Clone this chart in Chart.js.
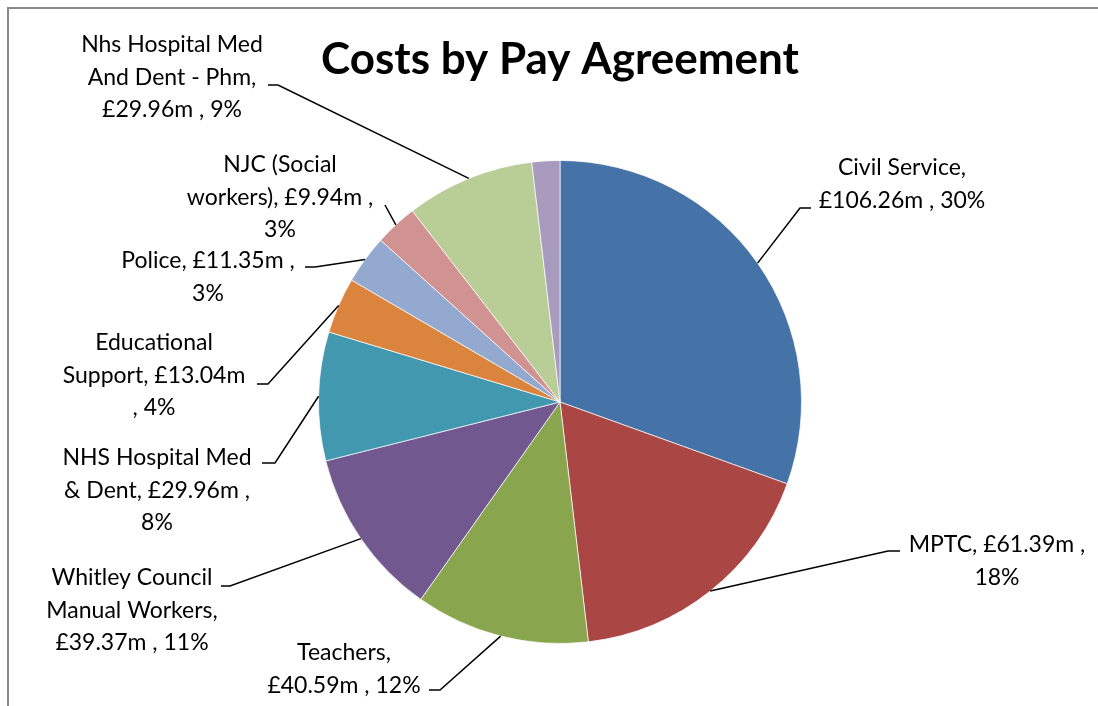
<!DOCTYPE html>
<html>
<head>
<meta charset="utf-8">
<script src="https://cdn.jsdelivr.net/npm/chart.js@4.4.1/dist/chart.umd.min.js"></script>
<style>
  html, body { margin: 0; padding: 0; background: #fff; }
  #wrap { position: relative; width: 1098px; height: 706px; }
</style>
</head>
<body>
<div id="wrap"><canvas id="chartPie" width="1098" height="706"></canvas></div>
<script>
const categories = [
    "Civil Service",
    "MPTC",
    "Teachers",
    "Whitley Council Manual Workers",
    "NHS Hospital Med & Dent",
    "Educational Support",
    "Police",
    "NJC (Social workers)",
    "Nhs Hospital Med And Dent - Phm",
    "Other",
];
const costs = [106.26, 61.39, 40.59, 39.37, 29.96, 13.04, 11.35, 9.94, 29.96, 6.5];
const shares = [30, 18, 12, 11, 8, 4, 3, 3, 9, null];
const sliceColors = [
    "#4572a7", "#aa4643", "#89a54e", "#71588f", "#4198af",
    "#db843d", "#93a9cf", "#d19392", "#b9cd96", "#a99bbd",
];

const FONT = 'Lato, "Open Sans", sans-serif';

// where each label block sits, how its words break into lines,
// and the elbow of its leader line (null = no label)
const labelSpots = [
    { cx: 902, cy: 168, wrap: [2, 3], ex: 800, ey: 208, hx: 811 },
    { cx: 997, cy: 545, wrap: [3, 1], ex: 888, ey: 551, hx: 900 },
    { cx: 344, cy: 653, wrap: [1, 3], ex: 440, ey: 690, hx: 429 },
    { cx: 132, cy: 578, wrap: [2, 2, 3], ex: 230, ey: 586, hx: 221 },
    { cx: 157, cy: 458, wrap: [3, 4, 1], ex: 275, ey: 463, hx: 262 },
    { cx: 154, cy: 343, wrap: [1, 2, 2], ex: 268, ey: 384, hx: 257 },
    { cx: 208, cy: 261, wrap: [3, 1], ex: 315, ey: 267, hx: 305 },
    { cx: 280, cy: 165, wrap: [2, 3, 1], ex: 385, ey: 205, hx: 385 },
    { cx: 172, cy: 45, wrap: [3, 4, 3], ex: 278, ey: 85, hx: 268 },
    null,
];

const pieLabels = {
    id: "pieLabels",
    afterDraw(chart) {
        const ctx = chart.ctx;
        const arcs = chart.getDatasetMeta(0).data;

        ctx.save();
        // frame
        ctx.strokeStyle = "#8a8a8a";
        ctx.lineWidth = 2;
        ctx.strokeRect(8, 8, 1200, 800);

        // title
        ctx.fillStyle = "#000";
        ctx.font = "bold 44px " + FONT;
        ctx.textAlign = "center";
        ctx.textBaseline = "middle";
        ctx.fillText("Costs by Pay Agreement", 560, 60);

        ctx.font = "23px " + FONT;
        ctx.strokeStyle = "#000";
        ctx.lineWidth = 1.5;
        arcs.forEach((arc, i) => {
            const spot = labelSpots[i];
            if (!spot) return;
            const mid = (arc.startAngle + arc.endAngle) / 2;
            const px = arc.x + Math.cos(mid) * arc.outerRadius;
            const py = arc.y + Math.sin(mid) * arc.outerRadius;
            ctx.beginPath();
            ctx.moveTo(px, py);
            ctx.lineTo(spot.ex, spot.ey);
            ctx.lineTo(spot.hx, spot.ey);
            ctx.stroke();

            const words = (categories[i] + ", £" + costs[i].toFixed(2) + "m , " + shares[i] + "%").split(" ");
            let k = 0;
            spot.wrap.forEach((n, row) => {
                const line = words.slice(k, k + n).join(" ");
                k += n;
                ctx.fillText(line, spot.cx, spot.cy + row * 32.5);
            });
        });
        ctx.restore();
    },
};

const config = {
    type: "pie",
    data: {
        labels: categories,
        datasets: [
            {
                data: costs,
                backgroundColor: sliceColors,
                borderColor: "rgba(255, 255, 255, 0.7)",
                borderWidth: 1,
            },
        ],
    },
    options: {
        responsive: false,
        animation: false,
        layout: {
            padding: { left: 318, right: 296, top: 160, bottom: 62 },
        },
        plugins: {
            legend: { display: false },
            tooltip: { enabled: false },
        },
    },
    plugins: [pieLabels],
};

new Chart(document.getElementById("chartPie"), config);
</script>
</body>
</html>
